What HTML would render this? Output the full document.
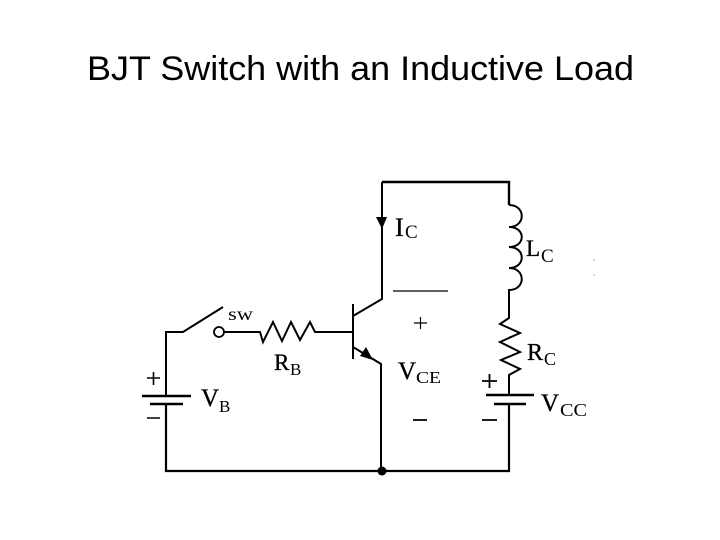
<!DOCTYPE html>
<html><head><meta charset="utf-8"><style>
html,body{margin:0;padding:0;background:#fff}
svg{display:block}
text{fill:#000}
.s{font-family:"Liberation Serif",serif}
.b{stroke:#000;stroke-width:.35}
</style></head><body>
<svg width="720" height="540" viewBox="0 0 720 540" xmlns="http://www.w3.org/2000/svg">
<text x="87" y="80" font-family="'Liberation Sans',sans-serif" font-size="34" textLength="547" lengthAdjust="spacingAndGlyphs">BJT Switch with an Inductive Load</text>
<g fill="none" stroke="#000" stroke-width="2" stroke-linejoin="miter">
<path d="M166 396V332H183L223 307"/>
<circle cx="219" cy="332" r="5" stroke-width="1.800"/>
<path d="M224 332H260L263 342L273 322L282 341L291 322L300 340L310 322L315 332H353"/>
<path d="M353 304V359" stroke-width="2"/>
<path d="M353 316L382 299V182"/>
<path d="M382 182H509V205" stroke-width="2.400"/>
<path d="M353 347L381 364V471"/>
<path d="M166 404V471H509V404" stroke-width="2.200"/>
<path d="M509 205C526 205 526 227 509 227C526 227 526 247 509 247C526 247 526 268 509 268C526 268 526 290 509 290V318L500 324L520 333L500 342L520 352L501 360L520 369L509 375V395"/>
<path d="M142 396H191M150 404H183M486 395H534M494 404H526" stroke-width="2.400"/>
<path d="M393 291H448" stroke-width="1.300"/>
<path d="M414 323H427M420.500 317V329" stroke-width="1.200"/>
<path d="M147 378H160M153.500 372V385M147 418H160" stroke-width="1.600"/>
<path d="M482 381H497M489.500 374V388M482 420H497M413 420H427" stroke-width="1.800"/>
</g>
<circle cx="382" cy="471" r="4.500" fill="#000"/>
<path d="M376 217H387L382 229Z" fill="#000"/>
<path d="M373 360L360 356L366 347Z" fill="#000"/>
<g class="s">
<text x="228" y="320" font-size="18" textLength="25" lengthAdjust="spacingAndGlyphs">sw</text>
<text class="b" x="274" y="370" font-size="23">R</text><text x="290" y="375" font-size="17">B</text>
<text class="b" x="201" y="406" font-size="25">V</text><text x="219" y="412" font-size="17">B</text>
<text class="b" x="395" y="236" font-size="26">I</text><text x="405" y="238" font-size="19">C</text>
<text class="b" x="526" y="256" font-size="23">L</text><text x="541" y="262" font-size="19">C</text>
<text class="b" x="527" y="360" font-size="24">R</text><text x="544" y="365" font-size="18">C</text>
<text class="b" x="398" y="379" font-size="25">V</text><text x="416" y="383" font-size="17" textLength="25" lengthAdjust="spacingAndGlyphs">CE</text>
<text class="b" x="541" y="411" font-size="25">V</text><text x="560" y="416" font-size="18" textLength="27" lengthAdjust="spacingAndGlyphs">CC</text>
</g>
<circle cx="594" cy="260" r=".6" fill="#777"/><circle cx="594" cy="275" r=".6" fill="#777"/>
</svg>
</body></html>
